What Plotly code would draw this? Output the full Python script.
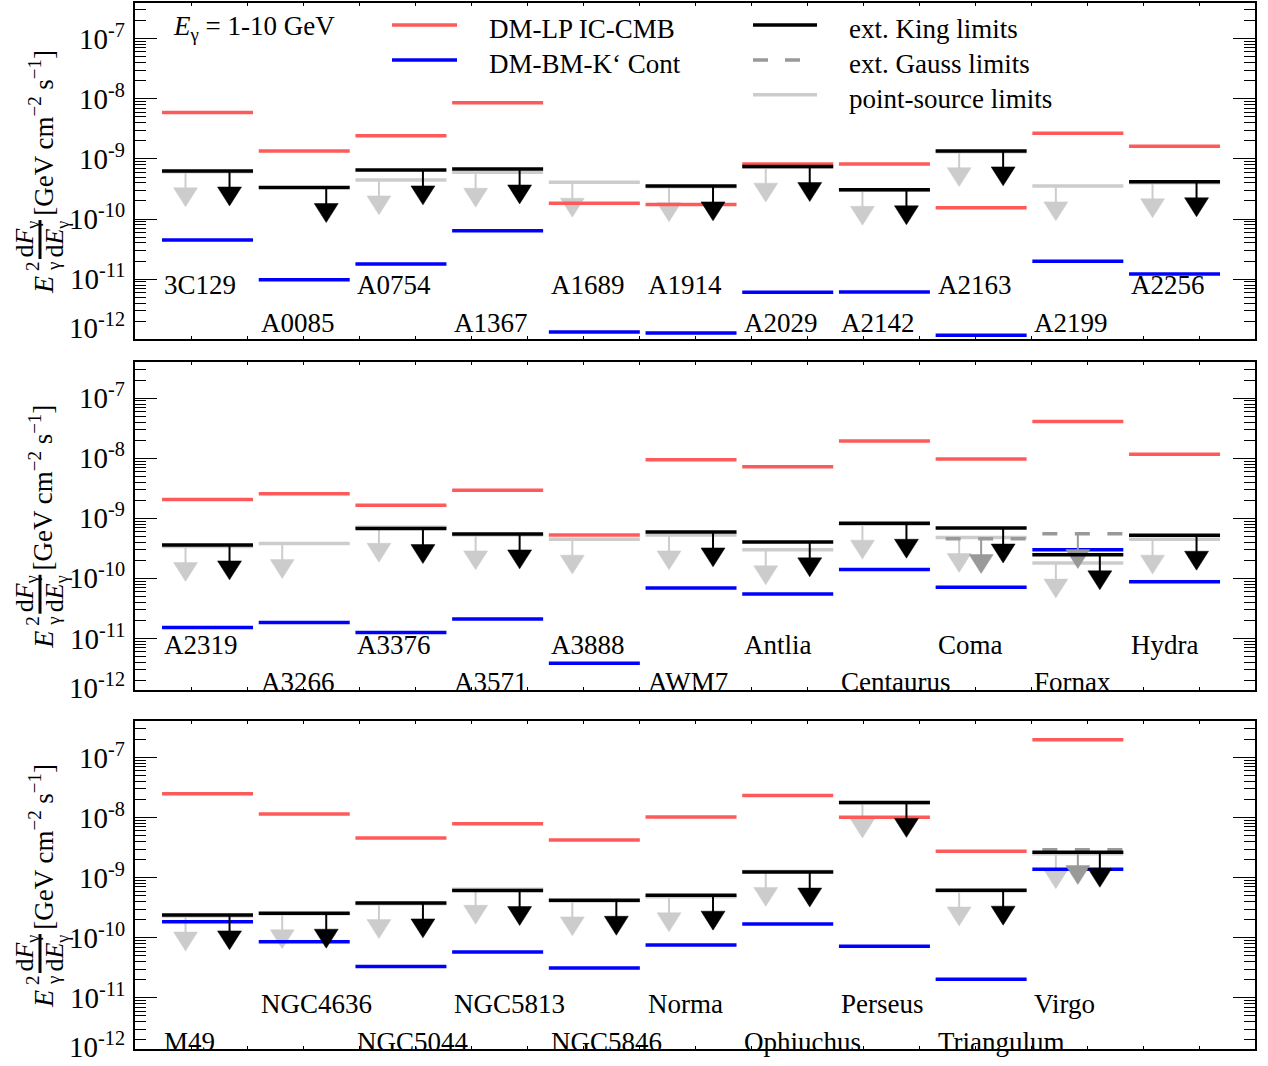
import plotly.graph_objects as go

# ---------------- data ----------------
names_1 = ["3C129", "A0085", "A0754", "A1367", "A1689", "A1914", "A2029", "A2142", "A2163", "A2199", "A2256"]
red_1 = [5.9e-9, 1.36e-9, 2.43e-9, 8.6e-9, 1.84e-10, 1.75e-10, 8.26e-10, 8.26e-10, 1.54e-10, 2.66e-9, 1.62e-9]
blue_1 = [4.5e-11, 9.8e-12, 1.79e-11, 6.4e-11, 1.33e-12, 1.27e-12, 6.07e-12, 6.1e-12, 1.17e-12, 1.98e-11, 1.22e-11]
king_1 = [6.3e-10, 3.34e-10, 6.56e-10, 6.8e-10, None, 3.56e-10, 7.45e-10, 3.06e-10, 1.36e-9, None, 4.16e-10]
point_1 = [6.1e-10, None, 4.48e-10, 6.0e-10, 4.1e-10, 3.45e-10, 7.3e-10, 3.0e-10, 1.32e-9, 3.56e-10, 4.0e-10]
gauss_1 = [None] * 11
row_1 = [0, 1, 0, 1, 0, 0, 1, 1, 0, 1, 0]

names_2 = ["A2319", "A3266", "A3376", "A3571", "A3888", "AWM7", "Antlia", "Centaurus", "Coma", "Fornax", "Hydra"]
red_2 = [2.07e-9, 2.58e-9, 1.65e-9, 2.93e-9, 5.3e-10, 9.47e-9, 7.23e-9, 1.95e-8, 9.7e-9, 4.1e-8, 1.17e-8]
blue_2 = [1.53e-11, 1.85e-11, 1.26e-11, 2.11e-11, 3.86e-12, 6.9e-11, 5.5e-11, 1.41e-10, 7.1e-11, 2.99e-10, 8.8e-11]
king_2 = [3.61e-10, None, 6.75e-10, 5.5e-10, None, 5.94e-10, 4.06e-10, 8.28e-10, 6.9e-10, 2.47e-10, 5.23e-10]
point_2 = [3.4e-10, 3.8e-10, 7.1e-10, 5.3e-10, 4.5e-10, 5.3e-10, 2.99e-10, 8.0e-10, 4.8e-10, 1.8e-10, 4.5e-10]
gauss_2 = [None, None, None, None, None, None, None, None, 4.6e-10, 5.57e-10, None]
row_2 = [0, 1, 0, 1, 0, 1, 0, 1, 0, 1, 0]

names_3 = ["M49", "NGC4636", "NGC5044", "NGC5813", "NGC5846", "Norma", "Ophiuchus", "Perseus", "Triangulum", "Virgo"]
red_3 = [2.49e-8, 1.15e-8, 4.57e-9, 7.9e-9, 4.24e-9, 1.02e-8, 2.34e-8, 1.01e-8, 2.75e-9, 1.97e-7]
blue_3 = [1.84e-10, 8.55e-11, 3.33e-11, 5.8e-11, 3.13e-11, 7.6e-11, 1.7e-10, 7.24e-11, 2.03e-11, 1.38e-9]
king_3 = [2.4e-10, 2.56e-10, 3.8e-10, 6.1e-10, 4.2e-10, 5.1e-10, 1.24e-9, 1.79e-8, 6.18e-10, 2.64e-9]
point_3 = [2.3e-10, 2.5e-10, 3.7e-10, 6.4e-10, 4.1e-10, 4.8e-10, 1.27e-9, 1.75e-8, 6.0e-10, 2.5e-9]
gauss_3 = [None, None, None, None, None, None, None, None, None, 2.93e-9]
row_3 = [1, 0, 1, 0, 1, 0, 1, 0, 1, 0]

ytick_exps = [-7, -8, -9, -10, -11, -12]

# ---------------- style ----------------
FONT = "Liberation Serif"
RED = "#ff5a5a"
BLUE = "#0000ff"
LGRAY = "#cccccc"
DGRAY = "#999999"
BLACK = "#000000"

W, H = 1268, 1066
ML, MR, MT, MB = 135, 13, 1, 17
PW, PH = W - ML - MR, H - MT - MB


def pp(px, py):
    return (px - ML) / PW, (H - MB - py) / PH


XR = [-0.75, 10.832]
HALF = 0.4705
ARR_OFF = 0.2275
TRI_HW = 0.124
STEM = 0.266
TIP = 0.581
LABEL_Y = [-11.10, -11.73]

panels = [
    dict(names=names_1, red=red_1, blue=blue_1, king=king_1, point=point_1, gauss=gauss_1, row=row_1,
         top=1, bot=338, yr=[-12.0, -6.408]),
    dict(names=names_2, red=red_2, blue=blue_2, king=king_2, point=point_2, gauss=gauss_2, row=row_2,
         top=360.7, bot=689, yr=[-11.852, -6.397]),
    dict(names=names_3, red=red_3, blue=blue_3, king=king_3, point=point_3, gauss=gauss_3, row=row_3,
         top=720.7, bot=1049, yr=[-11.852, -6.397]),
]

fig = go.Figure()
annotations = []
shapes = []


def seg_trace(vals, color, width, xa, ya, dash=None):
    xs, ys = [], []
    for i, v in enumerate(vals):
        if v is None:
            continue
        xs += [i - HALF, i + HALF, None]
        ys += [v, v, None]
    line = dict(color=color, width=width)
    if dash:
        line["dash"] = dash
    return go.Scatter(x=xs, y=ys, mode="lines", line=line, xaxis=xa, yaxis=ya,
                      hoverinfo="skip", showlegend=False)


def arrow_traces(vals, off, color, xa, ya):
    sx, sy, tx, ty = [], [], [], []
    for i, v in enumerate(vals):
        if v is None:
            continue
        xc = i + off
        sx += [xc, xc, None]
        sy += [v, v * 10 ** (-STEM - 0.02), None]
        top = v * 10 ** (-STEM)
        tip = v * 10 ** (-TIP)
        tx += [xc - TRI_HW, xc + TRI_HW, xc, xc - TRI_HW, None]
        ty += [top, top, tip, top, None]
    stem = go.Scatter(x=sx, y=sy, mode="lines", line=dict(color=color, width=2),
                      xaxis=xa, yaxis=ya, hoverinfo="skip", showlegend=False)
    tri = go.Scatter(x=tx, y=ty, mode="lines", fill="toself", fillcolor=color,
                     line=dict(color=color, width=0.5), xaxis=xa, yaxis=ya,
                     hoverinfo="skip", showlegend=False)
    return [stem, tri]


minor_vals = [k * 10.0 ** n for n in range(-13, -5) for k in range(2, 10)]
major_vals = [10.0 ** n for n in range(-13, -5)]
xstep = (XR[1] - XR[0]) / 20
xticks = [XR[0] + k * xstep for k in range(1, 20)]

for p_i, P in enumerate(panels):
    sfx = "" if p_i == 0 else str(p_i + 1)
    xa, ya = "x" + sfx, "y" + sfx
    dom = [pp(0, P["bot"])[1], pp(0, P["top"])[1]]
    dom = [max(0, dom[0]), min(1, dom[1])]

    fig.add_trace(seg_trace(P["point"], LGRAY, 3.5, xa, ya))
    for t in arrow_traces(P["point"], -ARR_OFF, LGRAY, xa, ya):
        fig.add_trace(t)
    fig.add_trace(seg_trace(P["red"], RED, 3.5, xa, ya))
    fig.add_trace(seg_trace(P["blue"], BLUE, 3.5, xa, ya))
    fig.add_trace(seg_trace(P["gauss"], DGRAY, 3.5, xa, ya, dash="0px,10px,15px,7.5px"))
    for t in arrow_traces(P["gauss"], 0.0, DGRAY, xa, ya):
        fig.add_trace(t)
    fig.add_trace(seg_trace(P["king"], BLACK, 3.5, xa, ya))
    for t in arrow_traces(P["king"], ARR_OFF, BLACK, xa, ya):
        fig.add_trace(t)

    fig.update_layout(**{
        "xaxis" + sfx: dict(domain=[0, 1], range=XR, anchor=ya, showgrid=False, zeroline=False,
                            showticklabels=False, tickmode="array", tickvals=xticks,
                            ticks="inside", ticklen=3, tickwidth=1, tickcolor=BLACK,
                            showline=True, linewidth=2, linecolor=BLACK, mirror="ticks"),
        "yaxis" + sfx: dict(domain=dom, type="log", range=P["yr"], anchor=xa, showgrid=False,
                            zeroline=False, showticklabels=False, tickmode="array",
                            tickvals=major_vals, ticks="inside", ticklen=22, tickwidth=1.3,
                            tickcolor=BLACK, showline=True, linewidth=2, linecolor=BLACK,
                            mirror="ticks",
                            minor=dict(tickmode="array", tickvals=minor_vals, ticks="inside",
                                       ticklen=11, tickwidth=1.3, tickcolor=BLACK, showgrid=False)),
    })

    # cluster names
    for i, nm in enumerate(P["names"]):
        annotations.append(dict(x=i - HALF, y=LABEL_Y[P["row"][i]], xref=xa, yref=ya, text=nm,
                                showarrow=False, xanchor="left", yanchor="middle",
                                font=dict(family=FONT, size=27, color=BLACK)))

    # y tick labels
    for e in ytick_exps:
        yv = e if e != -12 else -12 + 11 / 60.2
        annotations.append(dict(x=-0.007, y=yv, xref="paper", yref=ya,
                                text="10<sup>%d</sup>" % e, showarrow=False,
                                xanchor="right", yanchor="middle", yshift=2,
                                font=dict(family=FONT, size=29, color=BLACK)))

    # y axis title (built from pieces)
    cy = (P["top"] + P["bot"]) / 2

    def add_txt(px, py, txt, size):
        x, y = pp(px, py)
        annotations.append(dict(x=x, y=y, xref="paper", yref="paper", text=txt, textangle=-90,
                                showarrow=False, xanchor="center", yanchor="middle",
                                font=dict(family=FONT, size=size, color=BLACK)))
    add_txt(41, cy - 38.5, "[GeV cm<sup>−2</sup> s<sup>−1</sup>]", 27)
    add_txt(26, cy + 68.5, "d<i>F</i><sub>γ</sub>", 26)
    add_txt(56, cy + 68.5, "d<i>E</i><sub>γ</sub>", 26)
    add_txt(44, cy + 114, "<i>E</i>", 28)
    add_txt(33, cy + 95, "2", 19)
    add_txt(54, cy + 95, "γ", 19)
    x0, y0 = pp(40, cy + 49)
    x1, y1 = pp(40, cy + 88)
    shapes.append(dict(type="line", xref="paper", yref="paper", x0=x0, x1=x1, y0=y0, y1=y1,
                       line=dict(color=BLACK, width=3)))


# ---------------- legend (top panel) ----------------
def leg_line(px0, px1, py, color, dash=None):
    x0, y0 = pp(px0, py)
    x1, _ = pp(px1, py)
    ln = dict(color=color, width=3.5)
    if dash:
        ln["dash"] = dash
    shapes.append(dict(type="line", xref="paper", yref="paper", x0=x0, x1=x1, y0=y0, y1=y0, line=ln))


def leg_text(px, py, txt):
    x, y = pp(px, py)
    annotations.append(dict(x=x, y=y, xref="paper", yref="paper", text=txt, showarrow=False,
                            xanchor="left", yanchor="middle",
                            font=dict(family=FONT, size=27, color=BLACK)))


leg_text(171, 26, "<i>E</i><sub>γ</sub> = 1-10 GeV")
leg_line(392, 457, 23, RED)
leg_line(392, 457, 58, BLUE)
leg_text(487, 27, "DM-LP IC-CMB")
leg_text(487, 62, "DM-BM-K‘ Cont")
leg_line(753, 817, 23, BLACK)
leg_line(753, 800, 58, DGRAY, dash="15px,17px")
leg_line(753, 817, 93, LGRAY)
leg_text(847, 27, "ext. King limits")
leg_text(847, 62, "ext. Gauss limits")
leg_text(847, 97, "point-source limits")

fig.update_layout(width=W, height=H, margin=dict(l=ML, r=MR, t=MT, b=MB),
                  paper_bgcolor="white", plot_bgcolor="white", showlegend=False,
                  annotations=annotations, shapes=shapes)

fig.write_html("out.html", config={"displayModeBar": False},
               post_script="document.body.style.margin='0px';document.body.style.overflow='hidden';")
